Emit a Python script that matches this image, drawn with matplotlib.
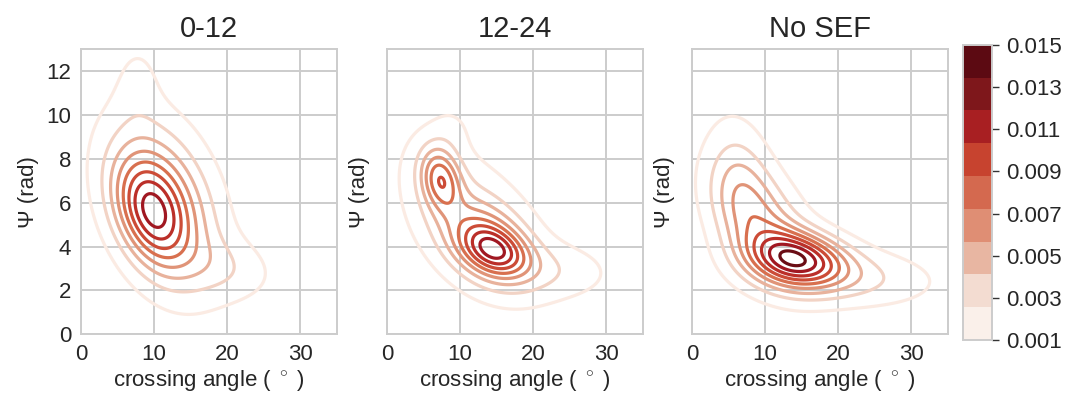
import numpy as np
import matplotlib
matplotlib.use("Agg")
import matplotlib.pyplot as plt
from matplotlib.colors import ListedColormap, BoundaryNorm
from matplotlib.cm import ScalarMappable

plt.rcParams['font.family'] = ['Liberation Sans', 'DejaVu Sans']
plt.rcParams['mathtext.fontset'] = 'custom'
plt.rcParams['mathtext.rm'] = 'Liberation Sans'
plt.rcParams['mathtext.it'] = 'Liberation Sans:italic'

titles = ["0-12", "12-24", "No SEF"]

# density levels shown on the colour bar
levels = [0.001, 0.002556, 0.004111, 0.005667, 0.007222,
          0.008778, 0.010333, 0.011889, 0.013444, 0.015]
cbar_ticks = [0.001, 0.003, 0.005, 0.007, 0.009, 0.011, 0.013, 0.015]
band_colors = ["#faf0ea", "#f3dcd1", "#e8b6a2", "#df8e74", "#d4694f",
               "#c7432f", "#a81f22", "#7e171b", "#5c0a12"]
line_colors = ["#fbebe3", "#f2d3c5", "#e8b29c", "#e09478", "#d8704f",
               "#cc4c37", "#bb2f29", "#a01822", "#6a0d15", "#5c0a12"]

# density surfaces, read off the contours as a few gaussian bumps per panel
# (centre x, centre y, spread x, spread y, correlation, peak height)
p1_mx = [9.4, 11.2, 20.0, 7.8]
p1_my = [5.5, 6.0, 3.0, 11.6]
p1_sx = [3.3, 5.0, 4.5, 2.2]
p1_sy = [1.62, 2.5, 1.0, 1.4]
p1_rho = [-0.35, -0.35, -0.2, 0.0]
p1_peak = [0.0066, 0.0068, 0.0017, 0.0010]

p2_mx = [14.8, 13.5, 7.3, 11.0, 23.0, 8.8]
p2_my = [3.8, 4.2, 7.1, 5.4, 2.9, 9.4]
p2_sx = [3.0, 4.2, 1.9, 6.5, 5.5, 2.0]
p2_sy = [0.75, 1.3, 1.0, 2.4, 0.9, 0.8]
p2_rho = [-0.3, -0.35, -0.2, -0.5, -0.1, 0.0]
p2_peak = [0.0055, 0.0055, 0.0066, 0.0025, 0.0018, 0.0008]

p3_mx = [14.5, 9.5, 21.0, 6.5]
p3_my = [3.45, 5.0, 2.6, 7.0]
p3_sx = [4.5, 4.5, 8.0, 3.0]
p3_sy = [0.85, 1.8, 0.9, 2.0]
p3_rho = [-0.2, -0.45, -0.15, -0.2]
p3_peak = [0.0100, 0.0052, 0.0028, 0.0026]

panels = [
    (p1_mx, p1_my, p1_sx, p1_sy, p1_rho, p1_peak),
    (p2_mx, p2_my, p2_sx, p2_sy, p2_rho, p2_peak),
    (p3_mx, p3_my, p3_sx, p3_sy, p3_rho, p3_peak),
]


def density(X, Y, mx, my, sx, sy, rho, peak):
    Z = np.zeros_like(X)
    for cx, cy, ax_, ay_, r, h in zip(mx, my, sx, sy, rho, peak):
        u = (X - cx) / ax_
        v = (Y - cy) / ay_
        q = (u * u - 2 * r * u * v + v * v) / (1 - r * r)
        Z += h * np.exp(-q / 2)
    return Z


cmap = ListedColormap(band_colors)
norm = BoundaryNorm(levels, cmap.N)

xs = np.linspace(-5, 40, 400)
ys = np.linspace(-3, 16, 300)
X, Y = np.meshgrid(xs, ys)

fig = plt.figure(figsize=(10.73, 4.01), dpi=100)
lefts = [0.0755, 0.3607, 0.6449]
grid_c = "#cccccc"
text_c = "#262626"

for i, (left, title, pars) in enumerate(zip(lefts, titles, panels)):
    ax = fig.add_axes([left, 0.1663, 0.2386, 0.7115])
    Z = density(X, Y, *pars)
    ax.contour(X, Y, Z, levels=levels, colors=line_colors, linewidths=2.3)
    ax.set_xlim(0, 35)
    ax.set_ylim(0, 13)
    ax.set_xticks([0, 10, 20, 30])
    ax.set_yticks([0, 2, 4, 6, 8, 10, 12])
    ax.grid(True, color=grid_c, linewidth=1.4)
    ax.set_axisbelow(True)
    for s in ax.spines.values():
        s.set_color(grid_c)
        s.set_linewidth(1.4)
    ax.tick_params(length=0, pad=7, labelsize=16, labelcolor=text_c)
    if i > 0:
        ax.set_yticklabels([])
    ax.set_title(title, fontsize=21, color=text_c, pad=9)
    ax.set_xlabel("crossing angle ( $^\\circ$ )", fontsize=16, color=text_c, labelpad=2)
    ax.set_ylabel("Ψ (rad)", fontsize=16, color=text_c, labelpad=5)

cax = fig.add_axes([0.8975, 0.152, 0.027, 0.736])
cb = fig.colorbar(ScalarMappable(norm=norm, cmap=cmap), cax=cax, ticks=cbar_ticks)
cb.minorticks_off()
cb.outline.set_edgecolor(grid_c)
cb.outline.set_linewidth(1.4)
cax.set_yticklabels(["%.3f" % t for t in cbar_ticks])
cax.tick_params(length=5, width=1, color="#333333", labelsize=16, labelcolor=text_c, pad=5)

fig.savefig("out.png", dpi=100)
